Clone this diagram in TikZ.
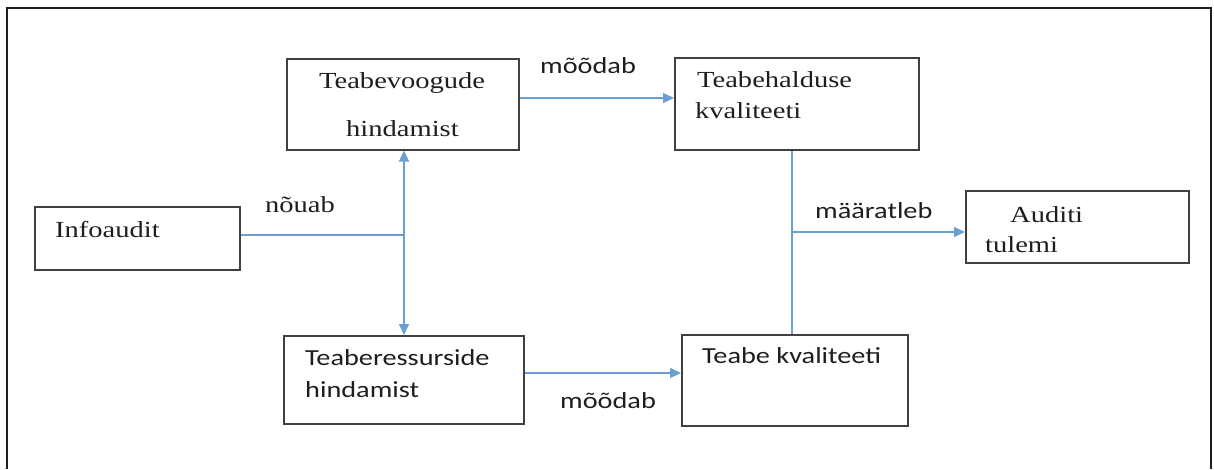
\documentclass[tikz,border=0pt]{standalone}
\usepackage{fontspec}
\setmainfont{Liberation Serif}[FakeStretch=1.24]
\newfontfamily\labelsans{Carlito}[FakeStretch=1.23]
\usetikzlibrary{arrows.meta}
\definecolor{linkblue}{HTML}{6A9FD4}
\definecolor{ink}{HTML}{1E1E1E}
\begin{document}
\begin{tikzpicture}[x=1pt,y=-1pt,
  box/.style={draw=ink!85, line width=1.5pt, inner sep=0pt, anchor=north west},
  serifT/.style={font=\fontsize{23}{28}\selectfont, text=ink, inner sep=0pt, anchor=base west},
  sansT/.style={font=\labelsans\fontsize{23}{28}\selectfont, text=ink, inner sep=0pt, anchor=base west},
  link/.style={draw=linkblue, line width=1.3pt},
  arr/.style={link, -{Triangle[length=11pt,width=10pt]}},
  frame/.style={draw=ink, line width=2.8pt}]
\useasboundingbox (0,0) rectangle (1214,469);

% outer frame (open at the bottom edge of the page)
\draw[frame] (7,469) -- (7,8) -- (1211,8) -- (1211,469);

% boxes
\node[box, minimum width=205, minimum height=63] (info)  at (34,206) {};
\node[box, minimum width=232, minimum height=91] (flow)  at (286,58) {};
\node[box, minimum width=244, minimum height=92] (mgmt)  at (674,57) {};
\node[box, minimum width=223, minimum height=72] (audit) at (965,190) {};
\node[box, minimum width=240, minimum height=88] (res)   at (283,335) {};
\node[box, minimum width=226, minimum height=91] (qual)  at (681,334) {};

% box texts
\node[serifT] (tInfo)  at (55,237)  {Infoaudit};
\node[serifT] (tFlow1) at (319,88)  {Teabevoogude};
\node[serifT] (tFlow2) at (346,136) {hindamist};
\node[serifT] (tMgmt1) at (697,87)  {Teabehalduse};
\node[serifT] (tMgmt2) at (695,118) {kvaliteeti};
\node[serifT] (tAud1)  at (1010,222) {Auditi};
\node[serifT] (tAud2)  at (985,252) {tulemi};
\node[sansT]  (tRes1)  at (305,365) {Teaberessurside};
\node[sansT]  (tRes2)  at (305,397) {hindamist};
\node[sansT]  (tQual)  at (702,363) {Teabe kvaliteeti};

% connector labels
\node[serifT] (lReq)  at (265,212) {nõuab};
\node[sansT]  (lMeas1) at (540,73)  {mõõdab};
\node[sansT]  (lDef)  at (815,218) {määratleb};
\node[sansT]  (lMeas2) at (560,408) {mõõdab};

% connectors
\coordinate (j1) at (404,235);
\draw[link] (info.east |- j1) -- (j1);
\draw[arr] (j1) -- (j1 |- flow.south);
\draw[arr] (j1) -- (j1 |- res.north);

\coordinate (r1) at (0,98);
\draw[arr] (flow.east |- r1) -- (mgmt.west |- r1);

\coordinate (j2) at (792,232);
\draw[link] (j2 |- mgmt.south) -- (j2 |- qual.north);
\draw[arr] (j2) -- (audit.west |- j2);

\coordinate (r2) at (0,373);
\draw[arr] (res.east |- r2) -- (qual.west |- r2);
\end{tikzpicture}
\end{document}
